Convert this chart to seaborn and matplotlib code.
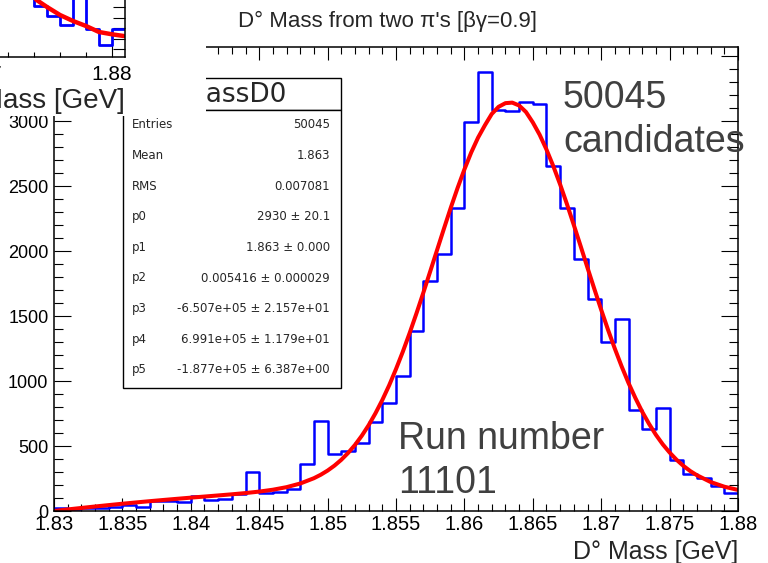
import numpy as np
import pandas as pd
import matplotlib
matplotlib.use("Agg")
import matplotlib.pyplot as plt
from matplotlib.patches import Rectangle
from matplotlib.ticker import MultipleLocator, FixedLocator, FuncFormatter, NullLocator
import seaborn as sns

# ---------------- data ----------------
mass_lo, mass_hi, n_bins = 1.830, 1.880, 50
counts = [20, 18, 22, 25, 30, 50, 28, 77, 75, 72,
          115, 82, 92, 128, 302, 141, 149, 167, 360, 696,
          439, 464, 523, 681, 829, 1038, 1383, 1773, 1977, 2329,
          2995, 3380, 3087, 3079, 3145, 3133, 2658, 2329, 1939, 1628,
          1301, 1480, 778, 630, 791, 395, 288, 255, 191, 140]

fit_mass = [1.830, 1.831, 1.832, 1.833, 1.834, 1.835, 1.836, 1.837, 1.838, 1.839,
            1.840, 1.841, 1.842, 1.843, 1.844, 1.845, 1.846, 1.847, 1.848, 1.849,
            1.8495, 1.850, 1.8505, 1.851, 1.8515, 1.852, 1.8525, 1.853, 1.8535, 1.854,
            1.8545, 1.855, 1.8555, 1.856, 1.8565, 1.857, 1.8575, 1.858, 1.8585, 1.859,
            1.8595, 1.860, 1.8605, 1.861, 1.8615, 1.862, 1.8625, 1.863, 1.8635, 1.864,
            1.8645, 1.865, 1.8655, 1.866, 1.8665, 1.867, 1.8675, 1.868, 1.8685, 1.869,
            1.8695, 1.870, 1.8705, 1.871, 1.8715, 1.872, 1.8725, 1.873, 1.8735, 1.874,
            1.8745, 1.875, 1.8755, 1.876, 1.8765, 1.877, 1.878, 1.879, 1.880]
fit_vals = [0, 12, 23.5, 34.6, 45.4, 55.9, 65.9, 75.6, 84.9, 93.9,
            102.7, 111.2, 119.7, 128.4, 138.0, 149.3, 163.7, 183.4, 211.5, 252.3,
            279, 311, 349, 394, 447, 508, 579, 660, 752, 854,
            967, 1092, 1226, 1370, 1522, 1680, 1843, 2007, 2171, 2332,
            2485, 2628, 2759, 2873, 2968, 3055, 3110, 3138, 3142, 3120,
            3070, 2990, 2895, 2781, 2653, 2512, 2360, 2200, 2037, 1871,
            1708, 1548, 1394, 1248, 1111, 984, 869, 763, 670, 586,
            513, 450, 395, 348, 308, 275, 223, 187, 162]

# inset (cropped part of another histogram)
inset_lo, inset_hi, inset_nbins = 1.864, 1.881, 17
inset_counts = [300, 290, 250, 220, 190, 160, 130, 110, 90, 75,
                51, 41, 32, 80, 28, 12, 28]
inset_fit_mass = [1.870, 1.872, 1.873, 1.8742, 1.875, 1.876, 1.877, 1.878, 1.879, 1.880, 1.8809]
inset_fit_vals = [140, 95, 75, 57, 50, 42, 36, 31, 25, 22.7, 21]

stats_title = "massD0"
stats_labels = ["Entries", "Mean", "RMS", "p0", "p1", "p2", "p3", "p4", "p5"]
stats_values = ["50045", "1.863", "0.007081", "2930 ± 20.1", "1.863 ± 0.000",
                "0.005416 ± 0.000029", "-6.507e+05 ± 2.157e+01",
                "6.991e+05 ± 1.179e+01", "-1.877e+05 ± 6.387e+00"]

title = "D° Mass from two π's [βγ=0.9]"
xlabel = "D° Mass [GeV]"
note1 = ["50045", "candidates"]
note2 = ["Run number", "11101"]

# ---------------- style ----------------
sns.set_style("ticks")
plt.rcParams["font.family"] = ["Liberation Sans", "DejaVu Sans"]
plt.rcParams["axes.edgecolor"] = "black"
plt.rcParams["xtick.color"] = "black"
plt.rcParams["ytick.color"] = "black"
stats_font = ["DejaVu Sans"]

W, H = 768, 563
def fx(px):
    return px / W
def fy(py):
    return 1 - py / H

fig = plt.figure(figsize=(W / 100, H / 100), dpi=100)
fig.patch.set_facecolor("white")

# ---------------- main axes ----------------
ax = fig.add_axes([fx(54), fy(511), (738 - 54) / W, (511 - 47) / H])
ax.set_zorder(0)
edges = [float(e) for e in np.linspace(mass_lo, mass_hi, n_bins + 1)]
centers = [0.5 * (a + b) for a, b in zip(edges[:-1], edges[1:])]
main_df = pd.DataFrame({"mass": centers, "count": counts})
sns.histplot(data=main_df, x="mass", weights="count", bins=edges, element="step",
             fill=False, color="#0000ff", linewidth=1.8, ax=ax)
fit_df = pd.DataFrame({"mass": fit_mass, "fit": fit_vals})
sns.lineplot(data=fit_df, x="mass", y="fit", color="#ff0000", linewidth=2.9, ax=ax, legend=False)

ax.set_xlim(mass_lo, mass_hi)
ax.set_ylim(0, 3570)
ax.set_xlabel("")
ax.set_ylabel("")
ax.xaxis.set_major_locator(MultipleLocator(0.005))
ax.xaxis.set_minor_locator(MultipleLocator(0.001))
ax.yaxis.set_major_locator(MultipleLocator(500))
ax.yaxis.set_minor_locator(MultipleLocator(100))
ax.xaxis.set_major_formatter(FuncFormatter(lambda v, p: f"{v:g}"))
ax.yaxis.set_major_formatter(FuncFormatter(lambda v, p: f"{v:.0f}"))
ax.tick_params(axis="x", which="major", direction="in", length=9.4, width=0.8,
               top=True, bottom=True, labelsize=14.5, pad=3)
ax.tick_params(axis="x", which="minor", direction="in", length=5, width=0.8,
               top=True, bottom=True)
ax.tick_params(axis="y", which="major", direction="in", length=12, width=0.8,
               left=True, right=True, labelsize=13, pad=4)
ax.tick_params(axis="y", which="minor", direction="in", length=6.5, width=0.8,
               left=True, right=True)
for s in ax.spines.values():
    s.set_visible(True)
    s.set_linewidth(1.1)
    s.set_color("black")

# ---------------- stats box ----------------
box_l, box_r = 123, 341
fig.add_artist(Rectangle((fx(box_l), fy(110)), (box_r - box_l) / W, 32 / H,
                         transform=fig.transFigure, facecolor="white",
                         edgecolor="black", linewidth=1.0, zorder=1))
fig.add_artist(Rectangle((fx(box_l), fy(388)), (box_r - box_l) / W, (388 - 110) / H,
                         transform=fig.transFigure, facecolor="white",
                         edgecolor="black", linewidth=1.0, zorder=1))
fig.text(fx(287), fy(95), stats_title, ha="right", va="center", fontsize=19,
         family=stats_font, zorder=1.5)
for i, (lab, val) in enumerate(zip(stats_labels, stats_values)):
    yy = 125 + 30.6 * i
    fig.text(fx(132), fy(yy), lab, ha="left", va="center", fontsize=8.5,
             family=stats_font, zorder=1.5)
    fig.text(fx(330), fy(yy), val, ha="right", va="center", fontsize=8.5,
             family=stats_font, zorder=1.5)

# ---------------- white mask of pasted inset ----------------
fig.add_artist(Rectangle((0, fy(116)), fx(206), 116 / H, transform=fig.transFigure,
                         facecolor="white", edgecolor="none", zorder=2))

# ---------------- inset (partial other plot) ----------------
axi = fig.add_axes([fx(-300), fy(57), 425 / W, 307 / H])
axi.set_zorder(3)
axi.set_facecolor("white")
iedges = [float(e) for e in np.linspace(inset_lo, inset_hi, inset_nbins + 1)]
icenters = [0.5 * (a + b) for a, b in zip(iedges[:-1], iedges[1:])]
inset_df = pd.DataFrame({"mass": icenters, "count": inset_counts})
sns.histplot(data=inset_df, x="mass", weights="count", bins=iedges, element="step",
             fill=False, color="#0000ff", linewidth=2.0, ax=axi)
ifit_df = pd.DataFrame({"mass": inset_fit_mass, "fit": inset_fit_vals})
sns.lineplot(data=ifit_df, x="mass", y="fit", color="#ff0000", linewidth=3.2,
             ax=axi, legend=False)
axi.set_xlim(1.8483, 1.881)
axi.set_ylim(0, 307)
axi.set_xlabel("")
axi.set_ylabel("")
axi.xaxis.set_major_locator(MultipleLocator(0.01))
axi.xaxis.set_minor_locator(MultipleLocator(0.002))
axi.xaxis.set_major_formatter(FuncFormatter(lambda v, p: f"{v:g}"))
axi.yaxis.set_major_locator(FixedLocator(np.arange(8, 307, 10.5)))
axi.yaxis.set_minor_locator(NullLocator())
axi.tick_params(axis="x", which="major", direction="in", length=8.6, width=0.8,
                bottom=True, top=False, labelsize=15, pad=6)
axi.tick_params(axis="x", which="minor", direction="in", length=3.6, width=0.8,
                bottom=True, top=False)
axi.tick_params(axis="y", which="both", direction="in", length=8.5, width=0.8,
                left=False, right=True, labelleft=False, labelright=False)
for s in axi.spines.values():
    s.set_visible(True)
    s.set_linewidth(1.1)
    s.set_color("black")
fig.text(fx(125), fy(108), "Mass [GeV]", ha="right", va="baseline", fontsize=20, zorder=4)

# ---------------- texts ----------------
fig.text(fx(387), fy(27.5), title, ha="center", va="baseline", fontsize=16, zorder=4)
fig.text(fx(738), fy(559), xlabel, ha="right", va="baseline", fontsize=18, zorder=4)
grey = "#404040"
fig.text(fx(563), fy(108), note1[0], ha="left", va="baseline", fontsize=27, color=grey, zorder=4)
fig.text(fx(563), fy(152), note1[1], ha="left", va="baseline", fontsize=27, color=grey, zorder=4)
fig.text(fx(398), fy(449), note2[0], ha="left", va="baseline", fontsize=27, color=grey, zorder=4)
fig.text(fx(398), fy(493), note2[1], ha="left", va="baseline", fontsize=27, color=grey, zorder=4)

fig.savefig("out.png", dpi=100)
